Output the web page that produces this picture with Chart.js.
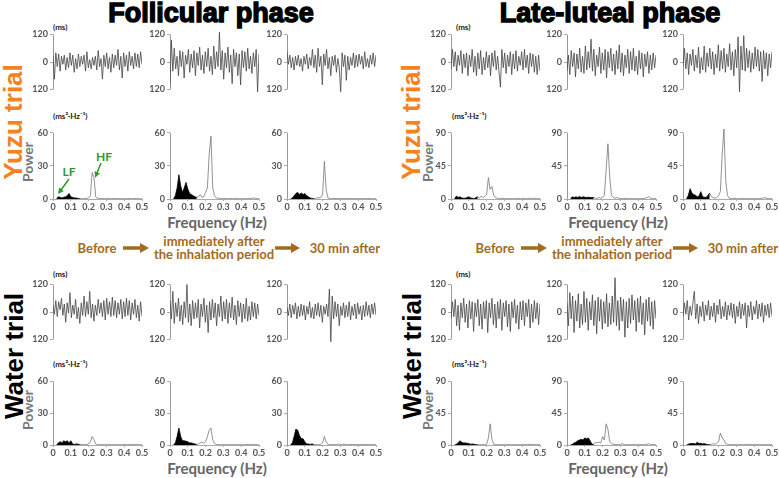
<!DOCTYPE html>
<html>
<head>
<meta charset="utf-8">
<script src="https://cdn.jsdelivr.net/npm/chart.js@4.4.1/dist/chart.umd.min.js"></script>
<style>
  body { margin: 0; background: #fff; }
  #fig { position: relative; width: 779px; height: 478px; overflow: hidden; background: #fff; }
  #fig canvas { position: absolute; }
  .lbl { position: absolute; white-space: nowrap; line-height: 1; transform: translate(-50%, -50%);
         font-family: Lato, "Open Sans", sans-serif; font-weight: bold; }
  .title { font-family: "Liberation Sans", Arial, sans-serif; font-size: 27px; color: #000; -webkit-text-stroke: 1.4px #000; }
  .trial { font-family: "Liberation Sans", Arial, sans-serif; font-size: 26px; transform: translate(-50%, -50%) rotate(-90deg); }
  .power { font-size: 14px; color: #777; transform: translate(-50%, -50%) rotate(-90deg); }
  .freq { font-size: 15px; color: #666; }
  .unit { font-size: 8px; color: #222; transform: none; }
  .step { font-size: 13px; color: #a26b1d; text-align: center; line-height: 13px; }
  .green { font-size: 12px; color: #2e9a2e; }
</style>
</head>
<body>
<div id="fig">
  <div class="lbl title" style="left:211px;top:13px">Follicular phase</div>
  <div class="lbl title" style="left:610px;top:13px">Late-luteal phase</div>

  <div class="lbl trial" style="left:13px;top:122px;color:#f58220">Yuzu trial</div>
  <div class="lbl trial" style="left:14px;top:356px;color:#000">Water trial</div>
  <div class="lbl trial" style="left:411px;top:122px;color:#f58220">Yuzu trial</div>
  <div class="lbl trial" style="left:412px;top:356px;color:#000">Water trial</div>

  <div class="lbl power" style="left:28px;top:162px">Power</div>
  <div class="lbl power" style="left:28px;top:410px">Power</div>
  <div class="lbl power" style="left:428px;top:162px">Power</div>
  <div class="lbl power" style="left:428px;top:410px">Power</div>

  <div class="lbl freq" style="left:217px;top:222px">Frequency (Hz)</div>
  <div class="lbl freq" style="left:618px;top:222px">Frequency (Hz)</div>
  <div class="lbl freq" style="left:217px;top:468px">Frequency (Hz)</div>
  <div class="lbl freq" style="left:618px;top:468px">Frequency (Hz)</div>

  <div class="lbl unit" style="left:53px;top:23px">(ms)</div>
  <div class="lbl unit" style="left:456px;top:23px">(ms)</div>
  <div class="lbl unit" style="left:53px;top:270px">(ms)</div>
  <div class="lbl unit" style="left:456px;top:270px">(ms)</div>
  <div class="lbl unit" style="left:53px;top:112px">(ms²·Hz⁻¹)</div>
  <div class="lbl unit" style="left:452px;top:112px">(ms²·Hz⁻¹)</div>
  <div class="lbl unit" style="left:53px;top:360px">(ms²·Hz⁻¹)</div>
  <div class="lbl unit" style="left:452px;top:360px">(ms²·Hz⁻¹)</div>

  <div class="lbl step" style="left:97px;top:248px">Before</div>
  <div class="lbl step" style="left:214px;top:248px">immediately after<br>the inhalation period</div>
  <div class="lbl step" style="left:345px;top:248px">30 min after</div>
  <div class="lbl step" style="left:495px;top:248px">Before</div>
  <div class="lbl step" style="left:612px;top:248px">immediately after<br>the inhalation period</div>
  <div class="lbl step" style="left:743px;top:248px">30 min after</div>

  <div class="lbl green" style="left:69px;top:172px">LF</div>
  <div class="lbl green" style="left:104px;top:157px">HF</div>

  <svg width="779" height="478" style="position:absolute;left:0;top:0;z-index:5;pointer-events:none">
    <defs>
      <marker id="gh" markerWidth="6" markerHeight="6" refX="1" refY="3" orient="auto" markerUnits="userSpaceOnUse">
        <path d="M0,0 L6,3 L0,6 z" fill="#2e9a2e"/>
      </marker>
    </defs>
    <line x1="69" y1="179" x2="61" y2="190" stroke="#2e9a2e" stroke-width="1.5" marker-end="url(#gh)"/>
    <line x1="101" y1="163" x2="97" y2="173" stroke="#2e9a2e" stroke-width="1.5" marker-end="url(#gh)"/>
    <g fill="#a26b1d" stroke="#a26b1d">
      <line x1="123" y1="248" x2="141" y2="248" stroke-width="3.5"/>
      <polygon points="140,243 149,248 140,253" stroke="none"/>
      <line x1="275" y1="248" x2="292" y2="248" stroke-width="3.5"/>
      <polygon points="291,243 300,248 291,253" stroke="none"/>
      <line x1="521" y1="248" x2="539" y2="248" stroke-width="3.5"/>
      <polygon points="538,243 547,248 538,253" stroke="none"/>
      <line x1="673" y1="248" x2="690" y2="248" stroke-width="3.5"/>
      <polygon points="689,243 698,248 689,253" stroke="none"/>
    </g>
  </svg>
</div>

<script>
// tick values
const tachTicks = [-120, 0, 120];
const follPowerTicks = [0, 30, 60];
const lutPowerTicks = [0, 45, 90];
const freqTicks = [0, 0.1, 0.2, 0.3, 0.4, 0.5];

// spectrum frequency grid (Hz)
const freqs = [0.02, 0.03, 0.04, 0.05, 0.06, 0.07, 0.08, 0.09, 0.10, 0.11,
               0.12, 0.13, 0.14, 0.15, 0.16, 0.17, 0.18, 0.19, 0.20, 0.21,
               0.22, 0.23, 0.24, 0.25, 0.26, 0.27, 0.28, 0.29, 0.30, 0.31,
               0.32, 0.33, 0.34, 0.35, 0.36, 0.37, 0.38, 0.39, 0.40, 0.41,
               0.42, 0.43, 0.44, 0.45, 0.46, 0.47, 0.48, 0.49, 0.50];

// RR interval deviation (ms) - follicular phase, yuzu trial
const tachFolYuzuBefore = [30,-75,40,-20,35,-40,25,-10,30,-35,20,-25,40,-15,30,-45,15,-30,35,-20,25,-10,30,-40,45,-25,10,-30,20,-15,25,-35,50,-20,15,-75,30,-20,40,-30,20,-45,35,-25,30,-15,55,-35,25,-70,40,-20,30,-40,45,-15,25,-30,40,-20,35,-25,45,-10];
const tachFolYuzuImmed = [-100,95,-40,60,-30,25,-60,50,-20,45,-70,30,-10,55,-45,35,-25,50,-60,40,-15,65,-35,30,-50,45,-20,60,-40,25,-55,70,-30,45,-20,130,-35,50,-75,40,-25,65,-45,30,-95,55,-20,40,-60,35,-100,50,-25,45,-40,60,-30,25,-50,40,-20,55,-130,35];
const tachFolYuzu30 = [45,-10,30,-25,20,-35,25,-15,30,-20,15,-40,25,-10,35,-30,20,-15,55,-25,30,-45,60,-20,25,-100,35,-15,55,-30,20,-60,25,-15,30,-45,15,-25,-130,40,-20,30,-80,25,-35,20,-15,40,-25,30,-20,35,-10,25,-30,45,-20,15,-25,30,-10,40,-20,30];
// late-luteal phase, yuzu trial
const tachLutYuzuBefore = [-30,55,-20,45,-40,30,-15,50,-50,35,-25,40,-60,30,-20,55,-45,25,-60,40,-30,50,-55,20,-35,45,-25,30,-60,40,-20,50,-35,25,-45,-110,55,-25,40,-50,30,-20,45,-55,35,-30,50,-40,25,-15,45,-35,55,-25,30,-50,40,-20,35,-45,25,-55,30,-40];
const tachLutYuzuImmed = [-40,30,-55,50,-20,40,-65,35,-30,60,-45,25,-50,70,-35,45,-25,100,-40,55,-60,30,-20,65,-50,40,-35,55,-70,45,-25,60,-40,35,-55,50,-30,75,-45,40,-60,30,-25,55,-50,45,-35,60,-40,25,-55,50,-30,40,-65,35,-20,45,-50,30,-35,40,-25,30];
const tachLutYuzu30 = [-20,60,-30,40,-55,35,-15,55,-40,30,-25,65,-50,20,-35,70,-45,40,-20,60,-30,45,-55,35,-25,75,-40,50,-30,60,-45,35,-20,80,-35,45,-60,55,-25,110,-130,70,-35,115,-40,60,-25,50,-45,40,-30,65,-20,55,-40,45,-85,50,-30,40,-60,35,-25,45];
// follicular phase, water trial
const tachFolWaterBefore = [30,-10,50,-20,45,10,60,-15,35,-45,40,-5,85,-25,30,-10,55,-30,20,-50,40,-15,70,-20,45,-10,90,-25,35,-40,30,-15,55,-5,40,-20,50,-35,60,-10,45,-20,65,-15,50,-25,40,-10,55,-30,45,-20,60,-15,50,-35,40,-10,55,-25,30,-40,45,-20];
const tachFolWaterImmed = [50,-30,90,-50,40,-20,60,-40,30,-55,45,-25,120,-45,35,-60,50,-30,40,-25,55,-70,35,-20,60,-45,30,-90,45,-35,55,-25,40,-60,35,-20,70,-40,45,-30,55,-50,40,-25,65,-35,30,-55,50,-20,40,-45,35,-30,60,-40,25,-35,45,-20,40,-30,35,-15];
const tachFolWater30 = [20,-15,35,-25,30,-10,40,-30,25,-20,35,-15,30,-35,25,-10,45,-25,20,-30,35,-15,40,-20,30,-45,25,-10,35,-20,100,-130,70,-30,45,-20,35,-60,25,-15,40,-25,30,-20,45,-35,25,-15,35,-30,40,-10,25,-35,30,-20,45,-15,30,-25,35,-10,40,-15];
// late-luteal phase, water trial
const tachLutWaterBefore = [-30,45,-20,55,-60,30,-80,40,-25,60,-45,35,-70,50,-30,45,-85,40,-20,55,-60,35,-75,45,-30,50,-90,40,-25,60,-55,35,-70,45,-30,55,-80,40,-20,50,-65,35,-85,45,-25,55,-50,30,-75,45,-35,50,-60,40,-20,55,-70,35,-45,50,-30,40,-55,35];
const tachLutWaterImmed = [40,-60,85,-30,70,-90,50,-40,80,-70,35,-55,90,-45,60,-80,45,-35,75,-60,50,-95,65,-40,55,-75,45,-50,80,-65,40,-55,70,-45,150,-60,50,-80,65,-40,55,-110,45,-70,60,-50,75,-35,50,-85,60,-45,70,-55,40,-100,55,-40,65,-60,45,-75,50,-30];
const tachLutWater30 = [-20,40,-10,50,-35,25,-15,40,90,-30,35,-50,25,-20,45,-40,30,-15,50,-35,25,-20,40,-45,30,-10,55,-30,25,-20,45,-35,30,-15,40,-25,35,-50,25,-20,45,-30,35,-15,40,-70,30,-20,45,-35,25,-10,50,-30,35,-20,40,-45,30,-15,35,-25,40,-20];

// power spectra (ms²·Hz⁻¹), one value per entry of freqs
const specFolYuzuBefore = [0,2,1.5,1,1.5,2,3,5,2,1.5, 1,1,0.5,0.5,0.3,0.3,0.5,0.5,1,3, 24,20,2,0.5,0.3,0.3,0.5,0.3,0.3,0.5, 0.3,0.3,0.5,0.3,0.3,0.3,0.5,0.3,0.3,0.3, 0.3,0.5,0.3,0.3,0.5,0.3,0.3,0.3,0.3];
const specFolYuzuImmed = [0,3,10,22,12,6,10,15,9,5, 4,3,2,1.5,2,4,1.5,2,6,10, 40,57,10,3,1,0.8,0.5,0.5,0.3,0.5, 0.3,0.3,0.5,0.3,0.3,0.5,0.3,0.3,0.3,0.3, 0.3,0.3,0.5,0.3,0.5,1,0.5,0.3,0.3];
const specFolYuzu30 = [0,1,3,5,6,4,5.5,4,5,3, 2,1,0.5,0.5,0.5,1,1,1.5,4,34, 8,1,0.5,0.3,0.3,0.5,0.3,0.3,0.5,0.3, 0.5,0.3,0.3,0.5,0.3,0.3,0.3,0.5,0.3,0.3, 0.5,0.3,0.3,0.3,0.5,0.3,0.3,0.3,0.3];
const specLutYuzuBefore = [0,4,2,3,1.5,1,1,2,3,1.5, 1,0.5,2,3,1,4,2,4,6,29, 13,17,5,2,1,0.5,0.5,1,0.5,0.5, 0.5,0.5,0.5,0.5,0.5,0.5,1,0.5,1,0.5, 0.5,0.5,1,0.5,0.5,1,0.5,0.5,0.5];
const specLutYuzuImmed = [0,3,2,3,2,3.5,2,3,2.5,2, 2.5,2,2,2,1,1,2,1,2,5, 40,75,30,5,2,1,2,1,0.5,0.5, 0.5,1,0.5,0.5,0.5,0.5,0.5,0.5,0.5,0.5, 0.5,0.5,1,2,3,1,0.5,0.5,0.5];
const specLutYuzu30 = [0,5,14,8,6,5,3,4,10,3, 2.5,2,5,8,3,2,1,2,5,10, 60,95,25,5,1,0.5,0.5,1,0.5,0.5, 0.5,0.5,1,0.5,0.5,0.5,0.5,0.5,0.5,0.5, 0.5,0.5,1,1,2,1,0.5,0.5,0.5];
const specFolWaterBefore = [0,2,3,2,4,3,4,2,4,1, 0.5,1,0.8,0.5,0.5,0.3,0.3,0.5,1,3, 8,5,1,0.3,0.3,0.3,0.3,0.3,0.3,0.3, 0.3,0.3,0.3,0.3,0.3,0.3,0.3,0.3,0.5,0.3, 0.3,0.5,0.3,0.5,0.3,0.5,0.3,0.3,0.3];
const specFolWaterImmed = [0,2,8,16,8,4,4,3.5,3,2, 2,1.5,1,0.5,1,2,3,1.5,3,8, 14,16,5,1.5,0.5,0.3,0.3,0.3,0.3,0.3, 0.3,0.3,0.3,0.3,0.3,0.3,0.3,0.5,0.3,0.3, 0.3,0.5,0.5,0.3,0.5,0.5,0.5,0.3,0.3];
const specFolWater30 = [0,2,8,15,14,9,6,6,3,1, 1,0.5,1,0.5,0.5,0.3,0.3,0.5,2,8, 3,0.5,0.3,0.3,0.5,0.3,0.5,1,0.3,0.5, 1,0.3,0.5,0.3,0.5,0.3,0.5,0.5,0.3,0.5, 0.3,0.5,0.3,0.5,0.3,0.5,0.3,0.3,0.3];
const specLutWaterBefore = [0,1,3,6,4,3,3,2.5,2,1, 1.5,1,0.5,0.5,0.5,0.5,0.5,0.5,1,10, 30,8,1,0.5,0.5,0.5,0.5,0.5,0.5,0.5, 0.5,0.5,0.5,0.5,0.5,0.5,0.5,0.5,0.5,0.5, 0.5,0.5,1,0.5,0.5,0.5,0.5,0.5,0.5];
const specLutWaterImmed = [0,1,3,4,6,7,8,7,10,9, 10,6,1,1,4,3,4,3,12,7, 30,22,5,2,1,0.5,0.5,0.5,0.5,2, 0.5,0.5,0.5,0.5,0.5,0.5,0.5,0.5,0.5,0.5, 0.5,0.5,0.5,1,2,0.5,0.5,0.5,0.5];
const specLutWater30 = [0,1,2,2,2,1.5,4,2,2.5,1.5, 2,1,0.5,0.5,1,2,1,3,5,17, 10,7,2,1,0.5,0.5,0.5,0.5,0.5,0.5, 0.5,0.5,0.5,0.5,0.5,1,0.5,0.5,0.5,0.5, 0.5,0.5,0.5,0.5,0.5,0.5,0.5,0.5,0.5];

const LF_END = 0.15;

// --- layout ---
const fig = document.getElementById('fig');
const colX = [53, 170, 287, 451, 567, 683];   // y-axis position of each column
const PW = 89;                                 // plot width
const YW = 26;                                 // room for y tick labels
const tickFont = { family: 'Lato', size: 9, weight: 'bold' };
const tickColor = '#555';

// vertical axis line drawn only between the outer ticks
const axisLine = {
    id: 'axisLine',
    beforeDatasetsDraw(chart, args, opts) {
        const s = chart.scales.y;
        const ctx = chart.ctx;
        const x = Math.round(chart.chartArea.left) + 0.5;
        ctx.save();
        ctx.strokeStyle = '#999';
        ctx.lineWidth = 1;
        ctx.beginPath();
        ctx.moveTo(x, s.getPixelForValue(opts.from));
        ctx.lineTo(x, s.getPixelForValue(opts.to));
        ctx.stroke();
        ctx.restore();
    }
};

function addCanvas(left, top, w, h) {
    const c = document.createElement('canvas');
    c.width = w;
    c.height = h;
    c.style.left = left + 'px';
    c.style.top = top + 'px';
    fig.appendChild(c);
    return c;
}

function yAxis(min, max, ticks, fmt) {
    return {
        min: min, max: max,
        afterFit: s => { s.width = YW; },
        afterBuildTicks: s => { s.ticks = ticks.map(v => ({ value: v })); },
        ticks: { callback: fmt, font: tickFont, color: tickColor, padding: 2 },
        grid: { drawOnChartArea: false, tickLength: 3, color: '#aaa' },
        border: { display: false }
    };
}

function tachChart(ax, mid, values) {
    const c = addCanvas(ax - YW, mid - 44, YW + PW + 2, 88);
    new Chart(c, {
        type: 'line',
        data: {
            datasets: [{
                data: values.map((v, i) => ({ x: i, y: v })),
                borderColor: '#444',
                borderWidth: 0.8,
                pointRadius: 0,
                tension: 0
            }]
        },
        options: {
            responsive: false, animation: false, devicePixelRatio: 1,
            layout: { padding: { top: 4, bottom: 4, left: 0, right: 2 } },
            plugins: { legend: { display: false }, tooltip: { enabled: false }, axisLine: { from: 120, to: -120 } },
            scales: {
                x: { type: 'linear', display: false, min: 0, max: values.length - 1 },
                y: yAxis(-160, 160, tachTicks, v => String(Math.abs(v)))
            }
        },
        plugins: [axisLine]
    });
}

function specChart(ax, zeroY, pxPerTick, ticks, values) {
    const AH = 80, XH = 16;
    const top = ticks[ticks.length - 1];
    const pts = freqs.map((f, i) => ({ x: f, y: values[i] }));
    const c = addCanvas(ax - YW, zeroY - AH, YW + PW + 8, AH + XH);
    new Chart(c, {
        type: 'line',
        data: {
            datasets: [{
                data: pts.filter(p => p.x <= LF_END + 1e-9),
                borderColor: '#000', backgroundColor: '#000', borderWidth: 0.8,
                fill: 'origin', pointRadius: 0, tension: 0
            }, {
                data: pts.filter(p => p.x >= LF_END - 1e-9),
                borderColor: '#777', borderWidth: 0.8,
                fill: false, pointRadius: 0, tension: 0
            }]
        },
        options: {
            responsive: false, animation: false, devicePixelRatio: 1,
            layout: { padding: { top: 0, bottom: 0, left: 0, right: 8 } },
            plugins: { legend: { display: false }, tooltip: { enabled: false }, axisLine: { from: top, to: 0 } },
            scales: {
                x: {
                    type: 'linear', min: 0, max: 0.5,
                    afterFit: s => { s.height = XH; },
                    afterBuildTicks: s => { s.ticks = freqTicks.map(v => ({ value: v })); },
                    ticks: { callback: v => String(v), font: tickFont, color: tickColor, padding: 1, autoSkip: false, maxRotation: 0 },
                    grid: { drawOnChartArea: false, tickLength: 2, color: '#aaa' },
                    border: { display: true, color: '#aaa' }
                },
                y: yAxis(0, top * AH / pxPerTick, ticks, v => String(v))
            }
        },
        plugins: [axisLine]
    });
}

const rows = [
    { tachMid: 62, specZero: 199, specPx: 73,
      tach: [tachFolYuzuBefore, tachFolYuzuImmed, tachFolYuzu30, tachLutYuzuBefore, tachLutYuzuImmed, tachLutYuzu30],
      spec: [specFolYuzuBefore, specFolYuzuImmed, specFolYuzu30, specLutYuzuBefore, specLutYuzuImmed, specLutYuzu30] },
    { tachMid: 312, specZero: 445, specPx: 70,
      tach: [tachFolWaterBefore, tachFolWaterImmed, tachFolWater30, tachLutWaterBefore, tachLutWaterImmed, tachLutWater30],
      spec: [specFolWaterBefore, specFolWaterImmed, specFolWater30, specLutWaterBefore, specLutWaterImmed, specLutWater30] }
];

rows.forEach(r => {
    colX.forEach((ax, i) => {
        tachChart(ax, r.tachMid, r.tach[i]);
        specChart(ax, r.specZero, r.specPx, i < 3 ? follPowerTicks : lutPowerTicks, r.spec[i]);
    });
});
</script>
</body>
</html>
